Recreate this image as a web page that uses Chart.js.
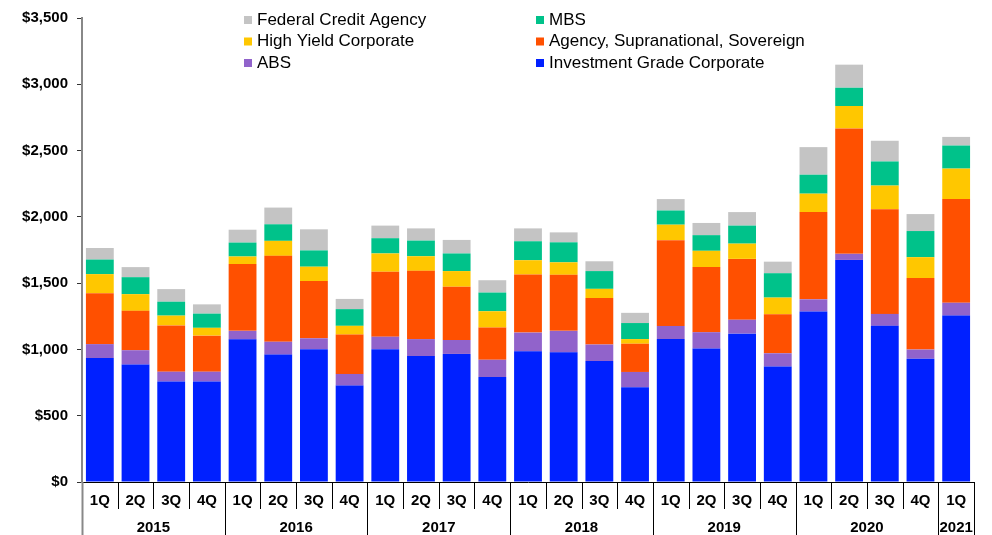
<!DOCTYPE html>
<html>
<head>
<meta charset="utf-8">
<script src="https://cdn.jsdelivr.net/npm/chart.js@4"></script>
<style>
  html, body { margin: 0; padding: 0; background: #fff; }
  #wrap { width: 992px; height: 535px; }
</style>
</head>
<body>
<div id="wrap"><canvas id="barChart"></canvas></div>
<script>
const quarters = ['1Q','2Q','3Q','4Q','1Q','2Q','3Q','4Q','1Q','2Q','3Q','4Q','1Q','2Q','3Q','4Q','1Q','2Q','3Q','4Q','1Q','2Q','3Q','4Q','1Q'];
const years = ['2015','2016','2017','2018','2019','2020','2021'];

// $ billions
const investmentGrade = [935, 886, 758, 758, 1076, 961, 1002, 727, 1002, 950, 966, 792, 986, 978, 912, 715, 1078, 1007, 1119, 871, 1286, 1675, 1178, 930, 1255];
const abs = [105, 108, 74, 74, 64, 97, 82, 88, 94, 128, 105, 130, 141, 162, 125, 115, 99, 123, 105, 100, 92, 46, 90, 69, 97];
const agencySupra = [384, 297, 349, 272, 504, 648, 432, 297, 490, 515, 402, 243, 438, 423, 351, 213, 647, 491, 459, 294, 658, 946, 789, 540, 782];
const highYield = [144, 126, 74, 59, 57, 113, 108, 66, 138, 110, 118, 123, 108, 94, 69, 35, 117, 123, 115, 126, 139, 169, 179, 157, 230];
const mbs = [110, 128, 105, 107, 105, 125, 123, 126, 115, 118, 133, 141, 143, 151, 134, 121, 107, 118, 136, 184, 143, 138, 182, 197, 174];
const fedCredit = [87, 76, 95, 70, 97, 126, 159, 77, 95, 92, 102, 93, 97, 75, 74, 77, 86, 92, 102, 87, 208, 174, 156, 128, 65];

const yTicks = [0, 500, 1000, 1500, 2000, 2500, 3000, 3500];

const FONT = 'Arial, "Liberation Sans", sans-serif';

const barData = {
  labels: quarters,
  datasets: [
    { label: 'Investment Grade Corporate', data: investmentGrade, backgroundColor: '#0020FF' },
    { label: 'ABS', data: abs, backgroundColor: '#9163CB' },
    { label: 'Agency, Supranational, Sovereign', data: agencySupra, backgroundColor: '#FF5000' },
    { label: 'High Yield Corporate', data: highYield, backgroundColor: '#FFC700' },
    { label: 'MBS', data: mbs, backgroundColor: '#00C28A' },
    { label: 'Federal Credit Agency', data: fedCredit, backgroundColor: '#C4C4C4' }
  ]
};

// legend order in the picture: two columns, filled row by row
const legendOrder = ['Federal Credit Agency', 'MBS', 'High Yield Corporate', 'Agency, Supranational, Sovereign', 'ABS', 'Investment Grade Corporate'];

const extras = {
  id: 'extras',
  afterDraw(chart) {
    const ctx = chart.ctx;
    const x = chart.scales.x;
    const area = chart.chartArea;
    const bottom = chart.height;
    const half = (x.getPixelForValue(1) - x.getPixelForValue(0)) / 2;
    ctx.save();

    // category separators under the axis
    for (let i = 0; i <= quarters.length; i++) {
      const px = i < quarters.length ? x.getPixelForValue(i) - half : x.getPixelForValue(i - 1) + half;
      const isYear = i % 4 === 0 || i === quarters.length;
      if (i === 0) {
        ctx.strokeStyle = '#888';
        ctx.lineWidth = 2;
      } else {
        ctx.strokeStyle = '#000';
        ctx.lineWidth = 1;
      }
      ctx.beginPath();
      ctx.moveTo(Math.round(px) + 0.5, area.bottom);
      ctx.lineTo(Math.round(px) + 0.5, isYear ? bottom : area.bottom + 27);
      ctx.stroke();
    }

    // year labels
    ctx.fillStyle = '#000';
    ctx.font = 'bold 15px ' + FONT;
    ctx.textAlign = 'center';
    ctx.textBaseline = 'middle';
    years.forEach((yr, k) => {
      const first = k * 4;
      const last = Math.min(first + 3, quarters.length - 1);
      const cx = (x.getPixelForValue(first) + x.getPixelForValue(last)) / 2;
      ctx.fillText(yr, cx, area.bottom + 46);
    });

    // legend
    ctx.font = '17px ' + FONT;
    ctx.textAlign = 'left';
    const colX = [area.left + 162, area.left + 454];
    legendOrder.forEach((name, k) => {
      const ds = chart.data.datasets.find(d => d.label === name);
      const cx = colX[k % 2];
      const cy = area.top + 2 + Math.floor(k / 2) * 21.5;
      ctx.fillStyle = ds.backgroundColor;
      ctx.fillRect(cx, cy - 4, 8, 8);
      ctx.fillStyle = '#000';
      ctx.fillText(name, cx + 13, cy);
    });
    ctx.restore();
  }
};

let myBarChart = new Chart(document.getElementById('barChart').getContext('2d'), {
  type: 'bar',
  data: barData,
  plugins: [extras],
  options: {
    responsive: true,
    maintainAspectRatio: false,
    animation: false,
    layout: { padding: { top: 15, right: 18, bottom: 0, left: 0 } },
    datasets: { bar: { barPercentage: 0.78, categoryPercentage: 1 } },
    plugins: {
      legend: { display: false },
      tooltip: { enabled: true }
    },
    scales: {
      x: {
        stacked: true,
        afterFit(scale) { scale.height = 53; },
        grid: { display: true, drawOnChartArea: false, drawTicks: false, offset: true },
        border: { color: '#000', width: 1 },
        ticks: { color: '#000', padding: 10, font: { family: FONT, size: 15, weight: 'bold' } }
      },
      y: {
        stacked: true,
        min: 0,
        max: 3500,
        afterFit(scale) { scale.width = 82; },
        afterBuildTicks(scale) { scale.ticks = yTicks.map(v => ({ value: v })); },
        grid: { drawOnChartArea: false, tickLength: 5, color: '#333' },
        border: { color: '#888', width: 2 },
        ticks: {
          color: '#000',
          padding: 9,
          font: { family: FONT, size: 15, weight: 'bold' },
          callback: v => '$' + v.toLocaleString('en-US')
        }
      }
    }
  }
});
</script>
</body>
</html>
